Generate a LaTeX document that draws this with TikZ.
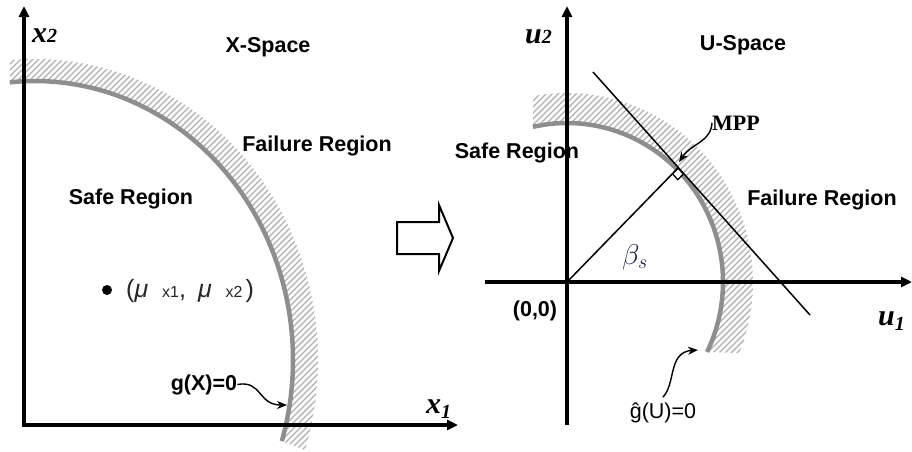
\documentclass[tikz,border=0pt]{standalone}
\usepackage{fontspec}
\setmainfont{Liberation Sans}
\newfontfamily\serifbf{Liberation Serif}
\usetikzlibrary{arrows.meta}
\definecolor{curvegray}{HTML}{8E8E8E}
\definecolor{hatchgray}{HTML}{B0B0B0}
\definecolor{betablue}{HTML}{18204F}
\begin{document}
\begin{tikzpicture}[x=1pt,y=-1pt,
  lab/.style={font=\fontsize{21.5}{24}\selectfont\bfseries, inner sep=0pt, anchor=base},
  axisline/.style={line width=3.8pt, line join=miter},
  bound/.style={line width=4.5pt, curvegray},
  hatch/.style={line width=1.1pt, hatchgray},
  thinline/.style={line width=1.5pt},
  callout/.style={line width=1.4pt, -{Stealth[length=10pt,width=8pt]}},
  axlab/.style={font=\serifbf\bfseries\itshape\fontsize{30}{30}\selectfont, inner sep=0pt, anchor=base west}]
\fill[white] (0,0) rectangle (912,451);
\useasboundingbox (0,0) rectangle (912,451);

% ---------- left panel: hatched failure band ----------
\begin{scope}
\clip plot[domain=-16.9:95.6, samples=90] ({35+258*cos(\x)},{360-279*sin(\x)})
  -- plot[domain=-95.1:17.4, samples=90] ({35+283*cos(-\x)},{360-301*sin(-\x)}) -- cycle;
\foreach \k in {-440,-434,...,360} \draw[hatch] (\k,460) -- ++(480,-480);
\end{scope}
\draw[bound] plot[domain=-16.9:95.6, samples=90] ({35+258*cos(\x)},{360-279*sin(\x)});

% ---------- right panel: hatched failure band ----------
\begin{scope}
\clip plot[domain=-26.1:102.6, samples=90] ({567+156*cos(\x)},{282-159*sin(\x)})
  -- plot[domain=-100.5:22.1, samples=90] ({567+186*cos(-\x)},{282-189*sin(-\x)}) -- cycle;
\foreach \k in {150,156,...,680} \draw[hatch] (\k,460) -- ++(480,-480);
\end{scope}
\draw[bound] plot[domain=-26.1:102.6, samples=90] ({567+156*cos(\x)},{282-159*sin(\x)});

% ---------- coordinates ----------
\coordinate (xo) at (24,425);
\coordinate (x2end) at (24,6);
\coordinate (x1end) at (458,425);
\coordinate (uo) at (567,282);
\coordinate (u2end) at (567,6);
\coordinate (u2start) at (567,425);
\coordinate (u1start) at (485,282);
\coordinate (u1end) at (912,282);
\coordinate (tA) at (593,72);
\coordinate (tB) at (810,315);
\coordinate (mppP) at (678,168);
\coordinate (mppTip) at (679,162);
\coordinate (gTip) at (287,405);
\coordinate (ghTip) at (698,350);

% right-angle mark
\filldraw[fill=white, line width=1.3pt] (mppP) -- ++(5.33,5.97) -- ++(-5.55,5.76) -- ++(-5.33,-5.97) -- cycle;
% tangent and radial lines
\draw[thinline] (tA) -- (tB);
\draw[thinline] (uo) -- (mppP);

% ---------- axes ----------
\draw[axisline, {Triangle[length=11pt,width=10pt]}-{Triangle[length=11pt,width=10pt]}] (x1end) -- (xo) -- (x2end);
\draw[axisline, -{Triangle[length=11pt,width=10pt]}] (u2start) -- (u2end);
\draw[axisline, -{Triangle[length=11pt,width=10pt]}] (u1start) -- (u1end);

% ---------- block arrow ----------
\draw[line width=2pt, line join=miter] (397,222) -- (439,222) -- (439,205) -- (453,238) -- (439,271) -- (439,254) -- (397,254) -- cycle;

% ---------- axis labels ----------
\node[axlab] (x2lab) at (32,42) {x{\fontsize{20}{20}\selectfont 2}};
\node[axlab] (x1lab) at (426,413) {x\raisebox{-5pt}{\fontsize{20}{20}\selectfont 1}};
\node[axlab] (u2lab) at (525,43) {u{\fontsize{20}{20}\selectfont 2}};
\node[axlab] (u1lab) at (878,325) {u\raisebox{-5pt}{\fontsize{20}{20}\selectfont 1}};

% ---------- labels ----------
\node[lab] (xsp) at (268,52) {X-Space};
\node[lab] (fail1) at (317,151) {Failure Region};
\node[lab] (safe1) at (131,204) {Safe Region};
\node[lab] (usp) at (743,50) {U-Space};
\node[lab] (safe2) at (517,158) {Safe Region};
\node[lab] (fail2) at (822,205) {Failure Region};
\node[lab] (g1) at (204,390) {g(X)=0};
\node[lab, font=\fontsize{21.5}{24}\selectfont] (g2) at (663,418) {ĝ(U)=0};
\node[lab] (orig) at (535,316) {(0,0)};
\node[inner sep=0pt, anchor=base west, font=\serifbf\bfseries\fontsize{22}{24}\selectfont] (mpp) at (712,130) {MPP};
\node[inner sep=0pt, text=betablue, font=\fontsize{24}{24}\selectfont] (beta) at (635,257) {\scalebox{1.15}{$\beta_s$}};

% mean point
\node[circle, fill=black, inner sep=0pt, minimum size=10pt] (dot) at (107,290) {};
\node[anchor=base west, inner sep=0pt, text=black!85, font=\fontsize{25}{25}\selectfont] (mean) at (126,297)
  {(\textit{μ}\hspace{14pt}{\fontsize{16}{16}\selectfont x1},\hspace{5pt} \textit{μ}\hspace{14pt}{\fontsize{16}{16}\selectfont x2}\hspace{3pt})};

% ---------- callout arrows ----------
\draw[callout] (g1.east) .. controls (262,380) and (258,405) .. (gTip);
\draw[callout] (mpp.west) .. controls (711,142) and (692,143) .. (mppTip);
\draw[callout] ([yshift=5pt]g2.north) .. controls (676,383) and (668,352) .. (ghTip);
\end{tikzpicture}
\end{document}
